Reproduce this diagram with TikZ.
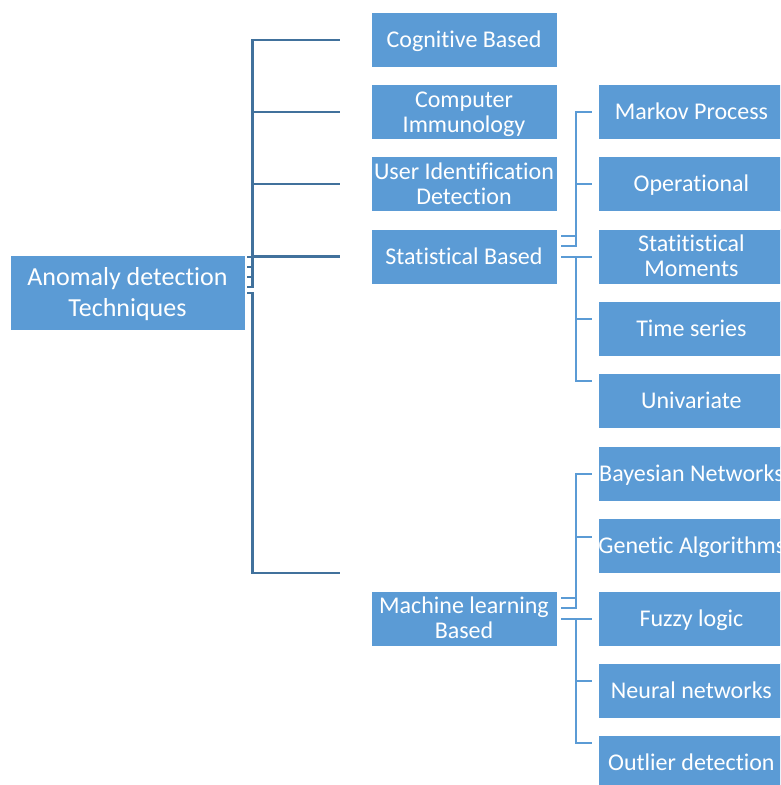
\documentclass[tikz,border=0pt]{standalone}
\usepackage{fontspec}
\setmainfont{Carlito}[Ligatures=NoCommon]
\usetikzlibrary{calc}
\definecolor{boxblue}{HTML}{5B9BD5}
\definecolor{lineblue}{HTML}{41719C}
\begin{document}
\begin{tikzpicture}[x=1pt,y=-1pt,
  box/.style={fill=boxblue, draw=white, line width=0.8pt, text=white,
    minimum width=186pt, minimum height=55pt, inner sep=0pt, align=center,
    font=\fontsize{24}{25}\selectfont, text height=15.5pt, text depth=0pt},
  twoline/.style={text height=40.5pt},
  subbox/.style={box, anchor=west},
  rootbox/.style={box, minimum width=235pt, minimum height=75pt,
    font=\fontsize{26}{31.4}\selectfont, text height=48.1pt},
  lone/.style={draw=lineblue, line width=2.4pt},
  ltwo/.style={draw=boxblue, line width=2pt}]
\clip (0,0) rectangle (780,785);
\useasboundingbox (0,0) rectangle (780,785);

% nodes
\node[rootbox] (root) at (127.5,292.5) {Anomaly detection\\Techniques};
\node[box] (cog)  at (464,39.5)  {Cognitive Based};
\node[box,twoline] (comp) at (464,112)   {Computer\\Immunology};
\node[box,twoline] (user) at (464,184)   {User Identification\\Detection};
\node[box] (stat) at (464,256.5) {Statistical Based};
\node[box,twoline] (ml)   at (464,618.5) {Machine learning\\Based};

\node[subbox] (markov)  at (598,112)   {Markov Process};
\node[subbox] (oper)    at (598,184)   {Operational};
\node[subbox,twoline] (moments) at (598,256.5) {Statitistical\\Moments};
\node[subbox] (tseries) at (598,328.5) {Time series};
\node[subbox] (univ)    at (598,401)   {Univariate};
\node[subbox] (bayes)   at (598,473.5) {Bayesian Networks};
\node[subbox] (genetic) at (598,545.5) {Genetic Algorithms};
\node[subbox] (fuzzy)   at (598,618.5) {Fuzzy logic};
\node[subbox] (neural)  at (598,690.5) {Neural networks};
\node[subbox] (outlier) at (598,762.5) {Outlier detection};

% root connectors
\draw[lone] ([xshift=2pt]root.east) ++(0,-35.8) -| ($(cog.west)+(-118,0.5)$) -- ($(cog.west)+(-31,0.5)$);
\draw[lone] ([xshift=2pt]root.east) ++(0,-25.8) -| ($(comp.west)+(-118,0)$) -- ($(comp.west)+(-31,0)$);
\draw[lone] ([xshift=2pt]root.east) ++(0,-15.8) -| ($(user.west)+(-118,0)$) -- ($(user.west)+(-31,0)$);
\draw[lone] ([xshift=2pt]root.east) ++(0,-35.8) -| ($(stat.west)+(-118,0)$) -- ($(stat.west)+(-31,0)$);
\draw[lone] ([xshift=2pt]root.east) ++(0,-5.8) -| ($(stat.west)+(-118,-1)$);
\draw[lone] ([xshift=2pt]root.east) ++(0,0.2) -| ($(ml.west)+(-118,-45.5)$) -- ($(ml.west)+(-31,-45.5)$);

% statistical connectors
\draw[ltwo] ([xshift=4pt]stat.east) ++(0,-20.5) -| ($(markov.west)+(-22,0)$) -- ($(markov.west)+(-6,0)$);
\draw[ltwo] ([xshift=4pt]stat.east) ++(0,-10.5) -| ($(oper.west)+(-22,0)$) -- ($(oper.west)+(-6,0)$);
\draw[ltwo] ([xshift=4pt]stat.east) ++(0,0.2) -| ($(moments.west)+(-22,0.2)$) -- ($(moments.west)+(-6,0.2)$);
\draw[ltwo] ([xshift=4pt]stat.east) ++(0,0.2) -| ($(tseries.west)+(-22,-9.5)$) -- ($(tseries.west)+(-6,-9.5)$);
\draw[ltwo] ([xshift=4pt]stat.east) ++(0,0.2) -| ($(univ.west)+(-22,-20)$) -- ($(univ.west)+(-6,-20)$);

% machine learning connectors
\draw[ltwo] ([xshift=4pt]ml.east) ++(0,-20.5) -| ($(bayes.west)+(-22,0.5)$) -- ($(bayes.west)+(-6,0.5)$);
\draw[ltwo] ([xshift=4pt]ml.east) ++(0,-10.5) -| ($(genetic.west)+(-22,-8.5)$) -- ($(genetic.west)+(-6,-8.5)$);
\draw[ltwo] ([xshift=4pt]ml.east) ++(0,0) -| ($(fuzzy.west)+(-22,0)$) -- ($(fuzzy.west)+(-6,0)$);
\draw[ltwo] ([xshift=4pt]ml.east) ++(0,0) -| ($(neural.west)+(-22,-9.5)$) -- ($(neural.west)+(-6,-9.5)$);
\draw[ltwo] ([xshift=4pt]ml.east) ++(0,0) -| ($(outlier.west)+(-22,-19.5)$) -- ($(outlier.west)+(-6,-19.5)$);
\end{tikzpicture}
\end{document}
